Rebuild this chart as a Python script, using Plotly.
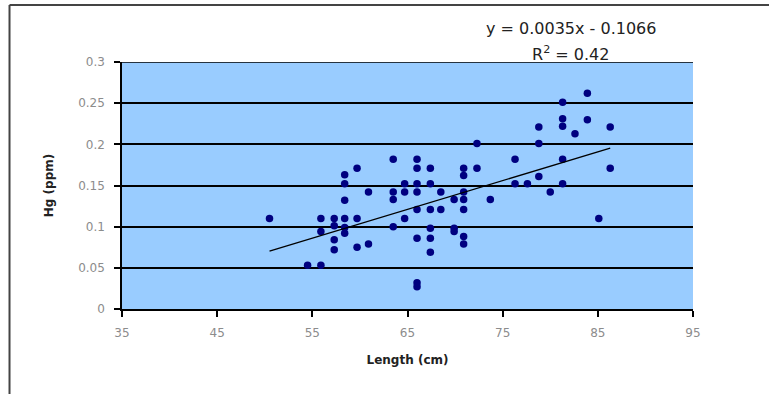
import plotly.graph_objects as go

# Data
length_cm = [
    50.5, 54.5, 55.9, 55.9, 55.9, 57.3, 57.3, 57.3, 57.3,
    58.4, 58.4, 58.4, 58.4, 58.4, 58.4, 59.7, 59.7, 59.7, 60.9, 60.9,
    63.5, 63.5, 63.5, 63.5, 64.7, 64.7, 64.7,
    66.0, 66.0, 66.0, 66.0, 66.0, 66.0, 66.0, 66.0,
    67.4, 67.4, 67.4, 67.4, 67.4, 67.4, 68.5, 68.5,
    69.9, 69.9, 69.9, 70.9, 70.9, 70.9, 70.9, 70.9, 70.9, 70.9,
    72.3, 72.3, 73.7, 76.3, 76.3, 77.6, 78.8, 78.8, 78.8, 80.0,
    81.3, 81.3, 81.3, 81.3, 81.3, 82.6, 83.9, 83.9, 85.1, 86.3, 86.3,
]
hg_ppm = [
    0.110, 0.053, 0.053, 0.110, 0.094, 0.110, 0.101, 0.084, 0.072,
    0.163, 0.152, 0.132, 0.110, 0.099, 0.092, 0.171, 0.110, 0.075, 0.142, 0.079,
    0.182, 0.142, 0.133, 0.100, 0.152, 0.142, 0.110,
    0.182, 0.171, 0.152, 0.142, 0.121, 0.086, 0.032, 0.027,
    0.171, 0.152, 0.121, 0.098, 0.086, 0.069, 0.142, 0.121,
    0.133, 0.098, 0.094, 0.171, 0.162, 0.142, 0.133, 0.121, 0.088, 0.079,
    0.201, 0.171, 0.133, 0.182, 0.152, 0.152, 0.221, 0.201, 0.161, 0.142,
    0.251, 0.231, 0.222, 0.182, 0.152, 0.213, 0.262, 0.230, 0.110, 0.221, 0.171,
]

trend_slope = 0.0035
trend_intercept = -0.1066
r_squared = 0.42

x_ticks = [35, 45, 55, 65, 75, 85, 95]
y_ticks = [0, 0.05, 0.1, 0.15, 0.2, 0.25, 0.3]
y_tick_text = ["0", "0.05", "0.1", "0.15", "0.2", "0.25", "0.3"]
y_max = 0.3

trend_x = [min(length_cm), max(length_cm)]
trend_y = [trend_slope * v + trend_intercept for v in trend_x]

fig = go.Figure()
fig.add_trace(go.Scatter(
    x=length_cm, y=hg_ppm, mode="markers",
    marker=dict(color="#000080", size=7.5, line=dict(width=0)),
    showlegend=False, hoverinfo="x+y",
))
fig.add_trace(go.Scatter(
    x=trend_x, y=trend_y, mode="lines",
    line=dict(color="black", width=1.3),
    showlegend=False, hoverinfo="skip",
))

tick_font = dict(family="DejaVu Sans", size=12, color="#8c8c8c")
title_font = dict(family="DejaVu Sans", size=12, color="#222222")

fig.update_layout(
    width=769, height=394,
    margin=dict(l=122, r=76, t=62, b=85),
    paper_bgcolor="white",
    plot_bgcolor="#99CCFF",
    xaxis=dict(
        range=[35, 95], tickvals=x_ticks, ticktext=[str(v) for v in x_ticks],
        showgrid=False, zeroline=False,
        showline=True, linecolor="black", linewidth=1.5,
        ticks="outside", ticklen=6, tickwidth=1.5, tickcolor="black",
        tickfont=tick_font, ticklabelstandoff=6,
        title=dict(text="<b>Length (cm)</b>", font=title_font, standoff=16),
    ),
    yaxis=dict(
        range=[0, y_max], tickvals=y_ticks, ticktext=y_tick_text,
        showgrid=True, gridcolor="black", gridwidth=1.5,
        zeroline=False,
        showline=True, linecolor="black", linewidth=1.5,
        ticks="outside", ticklen=6, tickwidth=1.5, tickcolor="black",
        tickfont=tick_font, ticklabelstandoff=7,
        title=dict(text="<b>Hg (ppm)</b>", font=title_font, standoff=22),
    ),
    shapes=[
        dict(type="line", xref="paper", yref="y",
             x0=0, x1=1, y0=y_max, y1=y_max,
             line=dict(color="black", width=1.5)),
        dict(type="line", xref="paper", yref="paper",
             x0=-0.197, x1=1.2, y0=1.231, y1=1.231,
             line=dict(color="#444444", width=2)),
        dict(type="line", xref="paper", yref="paper",
             x0=-0.197, x1=-0.197, y0=1.231, y1=-0.5,
             line=dict(color="#444444", width=2)),
    ],
    annotations=[
        dict(xref="paper", yref="paper", x=0.786, y=1.134, xanchor="center", yanchor="middle",
             text=f"y = {trend_slope}x - {abs(trend_intercept)}", showarrow=False,
             font=dict(family="DejaVu Sans", size=16, color="#222222")),
        dict(xref="paper", yref="paper", x=0.786, y=1.036, xanchor="center", yanchor="middle",
             text=f"R<sup>2</sup> = {r_squared}", showarrow=False,
             font=dict(family="DejaVu Sans", size=16, color="#222222")),
    ],
)

fig.write_html("out.html")
